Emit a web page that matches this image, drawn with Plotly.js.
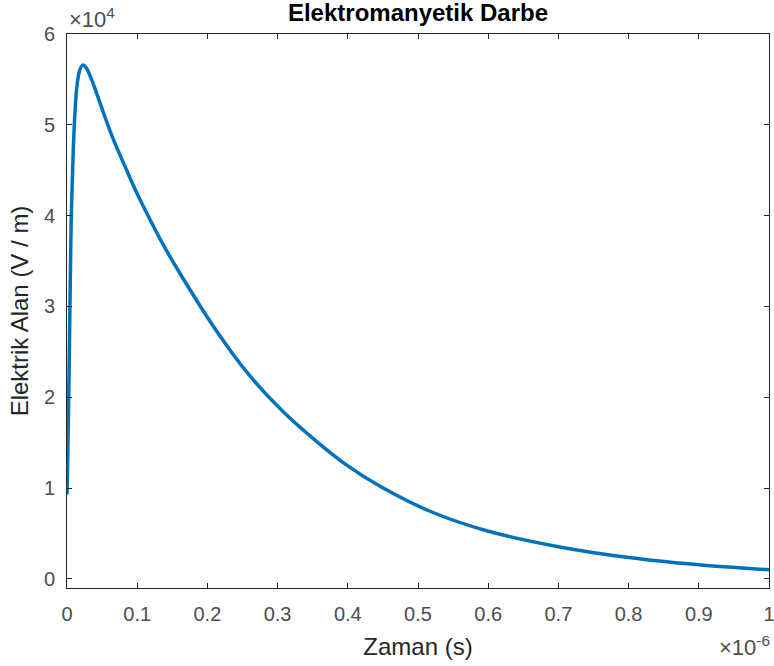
<!DOCTYPE html>
<html>
<head>
<meta charset="utf-8">
<script src="https://cdn.plot.ly/plotly-3.0.1.min.js"></script>
<style>
html,body{margin:0;padding:0;background:#fff;}
#chart{width:774px;height:666px;}
</style>
</head>
<body>
<div id="chart"></div>
<script>
// Time in microseconds
const timeMicro = [0, 0.001, 0.002, 0.003, 0.004, 0.005, 0.006, 0.008, 0.0104, 0.0138, 0.018, 0.023, 0.028, 0.035, 0.043, 0.052, 0.065, 0.085, 0.1, 0.118, 0.137, 0.166, 0.213, 0.26, 0.308, 0.36, 0.40, 0.446, 0.517, 0.598, 0.70, 0.80, 0.90, 1.0];
// Electric field in units of 1e4 V/m
const fieldE4 = [0.93, 1.3, 1.75, 2.3, 2.9, 3.45, 3.95, 4.5, 5.0, 5.4, 5.6, 5.66, 5.62, 5.5, 5.33, 5.13, 4.86, 4.50, 4.24, 3.96, 3.68, 3.30, 2.73, 2.24, 1.84, 1.485, 1.245, 1.02, 0.745, 0.53, 0.355, 0.236, 0.156, 0.10];

const xTickMicro = [0, 0.1, 0.2, 0.3, 0.4, 0.5, 0.6, 0.7, 0.8, 0.9, 1];
const xTickText = ['0', '0.1', '0.2', '0.3', '0.4', '0.5', '0.6', '0.7', '0.8', '0.9', '1'];
const yTickE4 = [0, 1, 2, 3, 4, 5, 6];
const yTickText = ['0', '1', '2', '3', '4', '5', '6'];

const xs = timeMicro.map(t => t * 1e-6);
const ys = fieldE4.map(v => v * 1e4);

const tickColor = '#4d4d4d';
const axisColor = '#262626';
const fontFam = '"Liberation Sans", Arial, Helvetica, sans-serif';

const trace = {
  x: xs, y: ys, type: 'scatter', mode: 'lines',
  line: {color: '#0072BD', width: 3.5, shape: 'spline', smoothing: 0.8},
  hoverinfo: 'skip'
};

const layout = {
  width: 774, height: 666,
  margin: {l: 67, r: 5, t: 34, b: 78},
  paper_bgcolor: '#fff', plot_bgcolor: '#fff',
  showlegend: false,
  font: {family: fontFam, color: tickColor, size: 20},
  title: {
    text: '<b>Elektromanyetik Darbe</b>',
    font: {family: fontFam, size: 24, color: '#000'},
    x: 0.5, xref: 'paper', xanchor: 'center',
    y: 1, yref: 'container', yanchor: 'top', pad: {t: 4}
  },
  xaxis: {
    range: [0, 1e-6],
    tickvals: xTickMicro.map(t => t * 1e-6),
    ticktext: xTickText,
    ticks: 'inside', ticklen: 5, tickwidth: 1, tickcolor: axisColor,
    showline: true, linecolor: axisColor, linewidth: 1, mirror: 'allticks',
    showgrid: false, zeroline: false,
    tickfont: {family: fontFam, size: 20, color: tickColor},
    ticklabelstandoff: 8,
    ticklabeloverflow: 'allow',
    title: {text: 'Zaman (s)', font: {family: fontFam, size: 24, color: axisColor}, standoff: 14},
    automargin: false
  },
  yaxis: {
    range: [-1000, 60000],
    tickvals: yTickE4.map(v => v * 1e4),
    ticktext: yTickText,
    ticks: 'inside', ticklen: 5, tickwidth: 1, tickcolor: axisColor,
    showline: true, linecolor: axisColor, linewidth: 1, mirror: 'allticks',
    showgrid: false, zeroline: false,
    tickfont: {family: fontFam, size: 20, color: tickColor},
    ticklabelstandoff: 7,
    ticklabeloverflow: 'allow',
    title: {text: 'Elektrik Alan (V / m)', font: {family: fontFam, size: 24, color: axisColor}, standoff: 8},
    automargin: false
  },
  annotations: [
    {
      text: '×10<sup>4</sup>', xref: 'paper', yref: 'paper', x: 0, y: 1,
      xanchor: 'left', yanchor: 'bottom', showarrow: false, yshift: 0,
      font: {family: fontFam, size: 22, color: tickColor}
    },
    {
      text: '×10<sup>-6</sup>', xref: 'paper', yref: 'paper', x: 1, y: 0,
      xanchor: 'right', yanchor: 'top', showarrow: false, yshift: -42, xshift: 3,
      font: {family: fontFam, size: 22, color: tickColor}
    }
  ]
};

Plotly.newPlot('chart', [trace], layout, {displayModeBar: false, staticPlot: true});
</script>
</body>
</html>
